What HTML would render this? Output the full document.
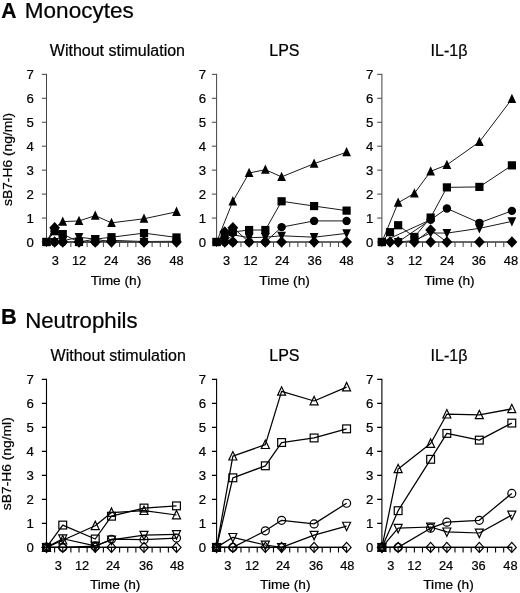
<!DOCTYPE html>
<html lang="en"><head><meta charset="utf-8"><title>sB7-H6 release</title>
<style>html,body{margin:0;padding:0;background:#fff}svg{display:block}</style></head>
<body>
<svg width="520" height="593" viewBox="0 0 520 593">
<rect width="520" height="593" fill="#fff"/>
<text font-family="Liberation Sans, Arial, Helvetica, sans-serif" stroke="#000" stroke-width="0.22" font-size="22" font-weight="bold" x="1.3" y="17.9" textLength="15.2" lengthAdjust="spacingAndGlyphs">A</text>
<text font-family="Liberation Sans, Arial, Helvetica, sans-serif" stroke="#000" stroke-width="0.22" font-size="21.5" x="24.8" y="17.9" textLength="109" lengthAdjust="spacingAndGlyphs">Monocytes</text>
<text font-family="Liberation Sans, Arial, Helvetica, sans-serif" stroke="#000" stroke-width="0.22" font-size="21.8" font-weight="bold" x="0.9" y="324">B</text>
<text font-family="Liberation Sans, Arial, Helvetica, sans-serif" stroke="#000" stroke-width="0.22" font-size="21.5" x="25.2" y="327.5" textLength="112.5" lengthAdjust="spacingAndGlyphs">Neutrophils</text>
<text font-family="Liberation Sans, Arial, Helvetica, sans-serif" stroke="#000" stroke-width="0.22" font-size="13" transform="translate(11.6 159.48) rotate(-90)" text-anchor="middle" textLength="93" lengthAdjust="spacingAndGlyphs">sB7-H6 (ng/ml)</text>
<g stroke="#1a1a1a" stroke-width="1.0" fill="none" stroke-linejoin="round">
<polyline points="46.5,242 54.62,227.63 62.75,242 79,242 95.25,242 111.5,242 144,242 176.5,242"/>
<polyline points="46.5,242 54.62,242 62.75,240.8 79,237.21 95.25,239.13 111.5,242 144,242 176.5,242"/>
<polyline points="46.5,242 54.62,242 62.75,242 79,242 95.25,242 111.5,240.32 144,241.52 176.5,241.28"/>
<polyline points="46.5,242 54.62,227.63 62.75,221.64 79,220.92 95.25,215.66 111.5,222.84 144,218.77 176.5,211.82"/>
<polyline points="46.5,242 54.62,231.22 62.75,234.1 79,242 95.25,239.13 111.5,237.21 144,233.14 176.5,237.45"/>
</g>
<g stroke="#444" stroke-width="1.0" fill="none">
<path d="M46.5 73.85V242H177"/>
<path d="M41.8 242H46.5M41.8 218.05H46.5M41.8 194.1H46.5M41.8 170.15H46.5M41.8 146.2H46.5M41.8 122.25H46.5M41.8 98.3H46.5M41.8 74.35H46.5M46.5 242V247M54.62 242V247M62.75 242V247M70.88 242V247M79 242V247M87.12 242V247M95.25 242V247M103.38 242V247M111.5 242V247M119.62 242V247M127.75 242V247M135.88 242V247M144 242V247M152.12 242V247M160.25 242V247M168.38 242V247M176.5 242V247"/>
</g>
<g font-family="Liberation Sans, Arial, Helvetica, sans-serif" stroke="#000" stroke-width="0.22" font-size="13.2" fill="#000">
<text x="33.9" y="246.6" text-anchor="end">0</text>
<text x="33.9" y="222.65" text-anchor="end">1</text>
<text x="33.9" y="198.7" text-anchor="end">2</text>
<text x="33.9" y="174.75" text-anchor="end">3</text>
<text x="33.9" y="150.8" text-anchor="end">4</text>
<text x="33.9" y="126.85" text-anchor="end">5</text>
<text x="33.9" y="102.9" text-anchor="end">6</text>
<text x="33.9" y="78.95" text-anchor="end">7</text>
</g>
<g font-family="Liberation Sans, Arial, Helvetica, sans-serif" stroke="#000" stroke-width="0.22" font-size="12.8" fill="#000">
<text x="55.23" y="265.2" text-anchor="middle">3</text>
<text x="79" y="265.2" text-anchor="middle">12</text>
<text x="111.2" y="265.2" text-anchor="middle">24</text>
<text x="144" y="265.2" text-anchor="middle">36</text>
<text x="176.5" y="265.2" text-anchor="middle">48</text>
</g>
<text font-family="Liberation Sans, Arial, Helvetica, sans-serif" stroke="#000" stroke-width="0.22" font-size="13.7" x="116" y="284.7" text-anchor="middle">Time (h)</text>
<text font-family="Liberation Sans, Arial, Helvetica, sans-serif" stroke="#000" stroke-width="0.22" font-size="16" x="117.4" y="55.7" text-anchor="middle">Without stimulation</text>
<path d="M49.23 227.63L54.62 221.93L60.02 227.63L54.62 233.33Z" fill="#000" stroke="none"/>
<path d="M57.35 242L62.75 236.3L68.15 242L62.75 247.7Z" fill="#000" stroke="none"/>
<path d="M73.6 242L79 236.3L84.4 242L79 247.7Z" fill="#000" stroke="none"/>
<path d="M89.85 242L95.25 236.3L100.65 242L95.25 247.7Z" fill="#000" stroke="none"/>
<path d="M106.1 242L111.5 236.3L116.9 242L111.5 247.7Z" fill="#000" stroke="none"/>
<path d="M138.6 242L144 236.3L149.4 242L144 247.7Z" fill="#000" stroke="none"/>
<path d="M171.1 242L176.5 236.3L181.9 242L176.5 247.7Z" fill="#000" stroke="none"/>
<path d="M50.27 237.9L58.98 237.9L54.62 247.2Z" fill="#000" stroke="none"/>
<path d="M58.4 236.7L67.1 236.7L62.75 246Z" fill="#000" stroke="none"/>
<path d="M74.65 233.11L83.35 233.11L79 242.41Z" fill="#000" stroke="none"/>
<path d="M90.9 235.03L99.6 235.03L95.25 244.33Z" fill="#000" stroke="none"/>
<path d="M107.15 237.9L115.85 237.9L111.5 247.2Z" fill="#000" stroke="none"/>
<path d="M139.65 237.9L148.35 237.9L144 247.2Z" fill="#000" stroke="none"/>
<path d="M172.15 237.9L180.85 237.9L176.5 247.2Z" fill="#000" stroke="none"/>
<circle cx="54.62" cy="242" r="4.2" fill="#000" stroke="none"/>
<circle cx="62.75" cy="242" r="4.2" fill="#000" stroke="none"/>
<circle cx="79" cy="242" r="4.2" fill="#000" stroke="none"/>
<circle cx="95.25" cy="242" r="4.2" fill="#000" stroke="none"/>
<circle cx="111.5" cy="240.32" r="4.2" fill="#000" stroke="none"/>
<circle cx="144" cy="241.52" r="4.2" fill="#000" stroke="none"/>
<circle cx="176.5" cy="241.28" r="4.2" fill="#000" stroke="none"/>
<path d="M50.27 231.73L58.98 231.73L54.62 222.43Z" fill="#000" stroke="none"/>
<path d="M58.4 225.74L67.1 225.74L62.75 216.44Z" fill="#000" stroke="none"/>
<path d="M74.65 225.02L83.35 225.02L79 215.72Z" fill="#000" stroke="none"/>
<path d="M90.9 219.75L99.6 219.75L95.25 210.46Z" fill="#000" stroke="none"/>
<path d="M107.15 226.94L115.85 226.94L111.5 217.64Z" fill="#000" stroke="none"/>
<path d="M139.65 222.87L148.35 222.87L144 213.57Z" fill="#000" stroke="none"/>
<path d="M172.15 215.92L180.85 215.92L176.5 206.62Z" fill="#000" stroke="none"/>
<rect x="42.4" y="237.9" width="8.2" height="8.2" fill="#000" stroke="none"/>
<rect x="50.52" y="227.12" width="8.2" height="8.2" fill="#000" stroke="none"/>
<rect x="58.65" y="230" width="8.2" height="8.2" fill="#000" stroke="none"/>
<rect x="74.9" y="237.9" width="8.2" height="8.2" fill="#000" stroke="none"/>
<rect x="91.15" y="235.03" width="8.2" height="8.2" fill="#000" stroke="none"/>
<rect x="107.4" y="233.11" width="8.2" height="8.2" fill="#000" stroke="none"/>
<rect x="139.9" y="229.04" width="8.2" height="8.2" fill="#000" stroke="none"/>
<rect x="172.4" y="233.35" width="8.2" height="8.2" fill="#000" stroke="none"/>
<path d="M49.23 242L54.62 236.3L60.02 242L54.62 247.7Z" fill="#000" stroke="none"/>
<rect x="42.4" y="237.9" width="8.2" height="8.2" fill="#000" stroke="none"/>
<g stroke="#1a1a1a" stroke-width="1.0" fill="none" stroke-linejoin="round">
<polyline points="216.6,242 224.72,231.94 232.85,227.63 249.1,242 265.35,242 281.6,242 314.1,242 346.6,242"/>
<polyline points="216.6,242 224.72,242 232.85,234.81 249.1,237.69 265.35,237.21 281.6,235.77 314.1,237.21 346.6,233.38"/>
<polyline points="216.6,242 224.72,242 232.85,242 249.1,242 265.35,242 281.6,227.15 314.1,220.92 346.6,220.92"/>
<polyline points="216.6,242 232.85,201.28 249.1,173.02 265.35,169.67 281.6,176.86 314.1,163.68 346.6,152.19"/>
<polyline points="216.6,242 224.72,234.34 232.85,231.94 249.1,230.03 265.35,230.03 281.6,201.28 314.1,206.07 346.6,210.63"/>
</g>
<g stroke="#444" stroke-width="1.0" fill="none">
<path d="M216.6 73.85V242H347.1"/>
<path d="M211.9 242H216.6M211.9 218.05H216.6M211.9 194.1H216.6M211.9 170.15H216.6M211.9 146.2H216.6M211.9 122.25H216.6M211.9 98.3H216.6M211.9 74.35H216.6M216.6 242V247M224.72 242V247M232.85 242V247M240.97 242V247M249.1 242V247M257.23 242V247M265.35 242V247M273.48 242V247M281.6 242V247M289.73 242V247M297.85 242V247M305.98 242V247M314.1 242V247M322.23 242V247M330.35 242V247M338.48 242V247M346.6 242V247"/>
</g>
<g font-family="Liberation Sans, Arial, Helvetica, sans-serif" stroke="#000" stroke-width="0.22" font-size="13.2" fill="#000">
<text x="206" y="246.6" text-anchor="end">0</text>
<text x="206" y="222.65" text-anchor="end">1</text>
<text x="206" y="198.7" text-anchor="end">2</text>
<text x="206" y="174.75" text-anchor="end">3</text>
<text x="206" y="150.8" text-anchor="end">4</text>
<text x="206" y="126.85" text-anchor="end">5</text>
<text x="206" y="102.9" text-anchor="end">6</text>
<text x="206" y="78.95" text-anchor="end">7</text>
</g>
<g font-family="Liberation Sans, Arial, Helvetica, sans-serif" stroke="#000" stroke-width="0.22" font-size="12.8" fill="#000">
<text x="226.53" y="265.2" text-anchor="middle">3</text>
<text x="250.6" y="265.2" text-anchor="middle">12</text>
<text x="282.2" y="265.2" text-anchor="middle">24</text>
<text x="314.7" y="265.2" text-anchor="middle">36</text>
<text x="346.6" y="265.2" text-anchor="middle">48</text>
</g>
<text font-family="Liberation Sans, Arial, Helvetica, sans-serif" stroke="#000" stroke-width="0.22" font-size="13.7" x="284.6" y="284.7" text-anchor="middle">Time (h)</text>
<text font-family="Liberation Sans, Arial, Helvetica, sans-serif" stroke="#000" stroke-width="0.22" font-size="16" x="284.4" y="55.7" text-anchor="middle">LPS</text>
<path d="M219.32 231.94L224.72 226.24L230.12 231.94L224.72 237.64Z" fill="#000" stroke="none"/>
<path d="M227.45 227.63L232.85 221.93L238.25 227.63L232.85 233.33Z" fill="#000" stroke="none"/>
<path d="M243.7 242L249.1 236.3L254.5 242L249.1 247.7Z" fill="#000" stroke="none"/>
<path d="M259.95 242L265.35 236.3L270.75 242L265.35 247.7Z" fill="#000" stroke="none"/>
<path d="M276.2 242L281.6 236.3L287 242L281.6 247.7Z" fill="#000" stroke="none"/>
<path d="M308.7 242L314.1 236.3L319.5 242L314.1 247.7Z" fill="#000" stroke="none"/>
<path d="M341.2 242L346.6 236.3L352 242L346.6 247.7Z" fill="#000" stroke="none"/>
<path d="M220.38 237.9L229.07 237.9L224.72 247.2Z" fill="#000" stroke="none"/>
<path d="M228.5 230.72L237.2 230.72L232.85 240.01Z" fill="#000" stroke="none"/>
<path d="M244.75 233.59L253.45 233.59L249.1 242.89Z" fill="#000" stroke="none"/>
<path d="M261 233.11L269.7 233.11L265.35 242.41Z" fill="#000" stroke="none"/>
<path d="M277.25 231.67L285.95 231.67L281.6 240.97Z" fill="#000" stroke="none"/>
<path d="M309.75 233.11L318.45 233.11L314.1 242.41Z" fill="#000" stroke="none"/>
<path d="M342.25 229.28L350.95 229.28L346.6 238.58Z" fill="#000" stroke="none"/>
<circle cx="224.72" cy="242" r="4.2" fill="#000" stroke="none"/>
<circle cx="232.85" cy="242" r="4.2" fill="#000" stroke="none"/>
<circle cx="249.1" cy="242" r="4.2" fill="#000" stroke="none"/>
<circle cx="265.35" cy="242" r="4.2" fill="#000" stroke="none"/>
<circle cx="281.6" cy="227.15" r="4.2" fill="#000" stroke="none"/>
<circle cx="314.1" cy="220.92" r="4.2" fill="#000" stroke="none"/>
<circle cx="346.6" cy="220.92" r="4.2" fill="#000" stroke="none"/>
<path d="M228.5 205.38L237.2 205.38L232.85 196.09Z" fill="#000" stroke="none"/>
<path d="M244.75 177.12L253.45 177.12L249.1 167.82Z" fill="#000" stroke="none"/>
<path d="M261 173.77L269.7 173.77L265.35 164.47Z" fill="#000" stroke="none"/>
<path d="M277.25 180.96L285.95 180.96L281.6 171.66Z" fill="#000" stroke="none"/>
<path d="M309.75 167.78L318.45 167.78L314.1 158.48Z" fill="#000" stroke="none"/>
<path d="M342.25 156.29L350.95 156.29L346.6 146.99Z" fill="#000" stroke="none"/>
<rect x="212.5" y="237.9" width="8.2" height="8.2" fill="#000" stroke="none"/>
<rect x="220.62" y="230.24" width="8.2" height="8.2" fill="#000" stroke="none"/>
<rect x="228.75" y="227.84" width="8.2" height="8.2" fill="#000" stroke="none"/>
<rect x="245" y="225.93" width="8.2" height="8.2" fill="#000" stroke="none"/>
<rect x="261.25" y="225.93" width="8.2" height="8.2" fill="#000" stroke="none"/>
<rect x="277.5" y="197.19" width="8.2" height="8.2" fill="#000" stroke="none"/>
<rect x="310" y="201.97" width="8.2" height="8.2" fill="#000" stroke="none"/>
<rect x="342.5" y="206.53" width="8.2" height="8.2" fill="#000" stroke="none"/>
<path d="M219.32 242L224.72 236.3L230.12 242L224.72 247.7Z" fill="#000" stroke="none"/>
<path d="M227.45 242L232.85 236.3L238.25 242L232.85 247.7Z" fill="#000" stroke="none"/>
<rect x="212.5" y="237.9" width="8.2" height="8.2" fill="#000" stroke="none"/>
<g stroke="#1a1a1a" stroke-width="1.0" fill="none" stroke-linejoin="round">
<polyline points="381.9,242 390.02,242 398.15,242 414.4,242 430.65,230.03 446.9,242 479.4,242 511.9,242"/>
<polyline points="381.9,242 398.15,242 414.4,240.56 430.65,232.9 446.9,233.14 479.4,228.35 511.9,221.4"/>
<polyline points="381.9,242 430.65,219.73 446.9,208.47 479.4,222.84 511.9,210.87"/>
<polyline points="381.9,242 398.15,202.72 414.4,193.38 430.65,171.35 446.9,164.88 479.4,141.89 511.9,99.02"/>
<polyline points="381.9,242 390.02,232.18 398.15,225.24 414.4,236.97 430.65,217.57 446.9,187.39 479.4,186.92 511.9,165.36"/>
<polyline points="398.15,242 430.65,219.73"/>
<polyline points="414.4,242 430.65,242 446.9,242"/>
</g>
<g stroke="#444" stroke-width="1.0" fill="none">
<path d="M381.9 73.85V242H512.4"/>
<path d="M377.2 242H381.9M377.2 218.05H381.9M377.2 194.1H381.9M377.2 170.15H381.9M377.2 146.2H381.9M377.2 122.25H381.9M377.2 98.3H381.9M377.2 74.35H381.9M381.9 242V247M390.02 242V247M398.15 242V247M406.27 242V247M414.4 242V247M422.52 242V247M430.65 242V247M438.77 242V247M446.9 242V247M455.02 242V247M463.15 242V247M471.27 242V247M479.4 242V247M487.52 242V247M495.65 242V247M503.77 242V247M511.9 242V247"/>
</g>
<g font-family="Liberation Sans, Arial, Helvetica, sans-serif" stroke="#000" stroke-width="0.22" font-size="13.2" fill="#000">
<text x="373.3" y="246.6" text-anchor="end">0</text>
<text x="373.3" y="222.65" text-anchor="end">1</text>
<text x="373.3" y="198.7" text-anchor="end">2</text>
<text x="373.3" y="174.75" text-anchor="end">3</text>
<text x="373.3" y="150.8" text-anchor="end">4</text>
<text x="373.3" y="126.85" text-anchor="end">5</text>
<text x="373.3" y="102.9" text-anchor="end">6</text>
<text x="373.3" y="78.95" text-anchor="end">7</text>
</g>
<g font-family="Liberation Sans, Arial, Helvetica, sans-serif" stroke="#000" stroke-width="0.22" font-size="12.8" fill="#000">
<text x="390.32" y="265.2" text-anchor="middle">3</text>
<text x="415" y="265.2" text-anchor="middle">12</text>
<text x="447.2" y="265.2" text-anchor="middle">24</text>
<text x="478.8" y="265.2" text-anchor="middle">36</text>
<text x="510.9" y="265.2" text-anchor="middle">48</text>
</g>
<text font-family="Liberation Sans, Arial, Helvetica, sans-serif" stroke="#000" stroke-width="0.22" font-size="13.7" x="449.4" y="284.7" text-anchor="middle">Time (h)</text>
<text font-family="Liberation Sans, Arial, Helvetica, sans-serif" stroke="#000" stroke-width="0.22" font-size="16" x="449" y="55.7" text-anchor="middle">IL-1β</text>
<path d="M384.62 242L390.02 236.3L395.42 242L390.02 247.7Z" fill="#000" stroke="none"/>
<path d="M392.75 242L398.15 236.3L403.55 242L398.15 247.7Z" fill="#000" stroke="none"/>
<path d="M409 242L414.4 236.3L419.8 242L414.4 247.7Z" fill="#000" stroke="none"/>
<path d="M425.25 230.03L430.65 224.32L436.05 230.03L430.65 235.73Z" fill="#000" stroke="none"/>
<path d="M441.5 242L446.9 236.3L452.3 242L446.9 247.7Z" fill="#000" stroke="none"/>
<path d="M474 242L479.4 236.3L484.8 242L479.4 247.7Z" fill="#000" stroke="none"/>
<path d="M506.5 242L511.9 236.3L517.3 242L511.9 247.7Z" fill="#000" stroke="none"/>
<path d="M393.8 237.9L402.5 237.9L398.15 247.2Z" fill="#000" stroke="none"/>
<path d="M410.05 236.46L418.75 236.46L414.4 245.76Z" fill="#000" stroke="none"/>
<path d="M426.3 228.8L435 228.8L430.65 238.1Z" fill="#000" stroke="none"/>
<path d="M442.55 229.04L451.25 229.04L446.9 238.34Z" fill="#000" stroke="none"/>
<path d="M475.05 224.25L483.75 224.25L479.4 233.55Z" fill="#000" stroke="none"/>
<path d="M507.55 217.3L516.25 217.3L511.9 226.6Z" fill="#000" stroke="none"/>
<circle cx="430.65" cy="219.73" r="4.2" fill="#000" stroke="none"/>
<circle cx="446.9" cy="208.47" r="4.2" fill="#000" stroke="none"/>
<circle cx="479.4" cy="222.84" r="4.2" fill="#000" stroke="none"/>
<circle cx="511.9" cy="210.87" r="4.2" fill="#000" stroke="none"/>
<path d="M393.8 206.82L402.5 206.82L398.15 197.52Z" fill="#000" stroke="none"/>
<path d="M410.05 197.48L418.75 197.48L414.4 188.18Z" fill="#000" stroke="none"/>
<path d="M426.3 175.45L435 175.45L430.65 166.15Z" fill="#000" stroke="none"/>
<path d="M442.55 168.98L451.25 168.98L446.9 159.68Z" fill="#000" stroke="none"/>
<path d="M475.05 145.99L483.75 145.99L479.4 136.69Z" fill="#000" stroke="none"/>
<path d="M507.55 103.12L516.25 103.12L511.9 93.82Z" fill="#000" stroke="none"/>
<rect x="377.8" y="237.9" width="8.2" height="8.2" fill="#000" stroke="none"/>
<rect x="385.92" y="228.08" width="8.2" height="8.2" fill="#000" stroke="none"/>
<rect x="394.05" y="221.14" width="8.2" height="8.2" fill="#000" stroke="none"/>
<rect x="410.3" y="232.87" width="8.2" height="8.2" fill="#000" stroke="none"/>
<rect x="426.55" y="213.47" width="8.2" height="8.2" fill="#000" stroke="none"/>
<rect x="442.8" y="183.29" width="8.2" height="8.2" fill="#000" stroke="none"/>
<rect x="475.3" y="182.82" width="8.2" height="8.2" fill="#000" stroke="none"/>
<rect x="507.8" y="161.26" width="8.2" height="8.2" fill="#000" stroke="none"/>
<path d="M425.25 242L430.65 236.3L436.05 242L430.65 247.7Z" fill="#000" stroke="none"/>
<rect x="377.8" y="237.9" width="8.2" height="8.2" fill="#000" stroke="none"/>
<text font-family="Liberation Sans, Arial, Helvetica, sans-serif" stroke="#000" stroke-width="0.22" font-size="13" transform="translate(11.3 463.7) rotate(-90)" text-anchor="middle" textLength="93" lengthAdjust="spacingAndGlyphs">sB7-H6 (ng/ml)</text>
<g stroke="#000" stroke-width="1.25" fill="none" stroke-linejoin="round">
<polyline points="46.5,547.4 62.75,547.4 95.25,547.4 111.5,547.4 144,547.4 176.5,547.4"/>
<polyline points="46.5,547.4 62.75,538.76 95.25,545.96 111.5,539.96 144,535.16 176.5,534.44"/>
<polyline points="46.5,547.4 62.75,547.4 95.25,546.2 111.5,539.24 144,539.72 176.5,538.04"/>
<polyline points="46.5,547.4 62.75,540.2 95.25,525.8 111.5,512.6 144,510.68 176.5,515"/>
<polyline points="46.5,547.4 62.75,525.08 95.25,539 111.5,516.2 144,508.04 176.5,505.88"/>
</g>
<g stroke="#000" stroke-width="1.1" fill="none">
<path d="M46.5 378.85V547.4H177.05"/>
<path d="M41.8 547.4H46.5M41.8 523.4H46.5M41.8 499.4H46.5M41.8 475.4H46.5M41.8 451.4H46.5M41.8 427.4H46.5M41.8 403.4H46.5M41.8 379.4H46.5M46.5 547.4V552.4M54.62 547.4V552.4M62.75 547.4V552.4M70.88 547.4V552.4M79 547.4V552.4M87.12 547.4V552.4M95.25 547.4V552.4M103.38 547.4V552.4M111.5 547.4V552.4M119.62 547.4V552.4M127.75 547.4V552.4M135.88 547.4V552.4M144 547.4V552.4M152.12 547.4V552.4M160.25 547.4V552.4M168.38 547.4V552.4M176.5 547.4V552.4"/>
</g>
<g font-family="Liberation Sans, Arial, Helvetica, sans-serif" stroke="#000" stroke-width="0.22" font-size="13.2" fill="#000">
<text x="33.9" y="552" text-anchor="end">0</text>
<text x="33.9" y="528" text-anchor="end">1</text>
<text x="33.9" y="504" text-anchor="end">2</text>
<text x="33.9" y="480" text-anchor="end">3</text>
<text x="33.9" y="456" text-anchor="end">4</text>
<text x="33.9" y="432" text-anchor="end">5</text>
<text x="33.9" y="408" text-anchor="end">6</text>
<text x="33.9" y="384" text-anchor="end">7</text>
</g>
<g font-family="Liberation Sans, Arial, Helvetica, sans-serif" stroke="#000" stroke-width="0.22" font-size="12.8" fill="#000">
<text x="58.33" y="569.6" text-anchor="middle">3</text>
<text x="82" y="569.6" text-anchor="middle">12</text>
<text x="113" y="569.6" text-anchor="middle">24</text>
<text x="146.1" y="569.6" text-anchor="middle">36</text>
<text x="177.1" y="569.6" text-anchor="middle">48</text>
</g>
<text font-family="Liberation Sans, Arial, Helvetica, sans-serif" stroke="#000" stroke-width="0.22" font-size="13.7" x="115.2" y="588.6" text-anchor="middle">Time (h)</text>
<text font-family="Liberation Sans, Arial, Helvetica, sans-serif" stroke="#000" stroke-width="0.22" font-size="16" x="118.2" y="361.1" text-anchor="middle">Without stimulation</text>
<path d="M42 547.4L46.5 542.4L51 547.4L46.5 552.4Z" fill="none" stroke="#000" stroke-width="1.2" stroke-linejoin="miter"/>
<path d="M58.25 547.4L62.75 542.4L67.25 547.4L62.75 552.4Z" fill="none" stroke="#000" stroke-width="1.2" stroke-linejoin="miter"/>
<path d="M90.75 547.4L95.25 542.4L99.75 547.4L95.25 552.4Z" fill="none" stroke="#000" stroke-width="1.2" stroke-linejoin="miter"/>
<path d="M107 547.4L111.5 542.4L116 547.4L111.5 552.4Z" fill="none" stroke="#000" stroke-width="1.2" stroke-linejoin="miter"/>
<path d="M139.5 547.4L144 542.4L148.5 547.4L144 552.4Z" fill="none" stroke="#000" stroke-width="1.2" stroke-linejoin="miter"/>
<path d="M172 547.4L176.5 542.4L181 547.4L176.5 552.4Z" fill="none" stroke="#000" stroke-width="1.2" stroke-linejoin="miter"/>
<path d="M42.5 543.6L50.5 543.6L46.5 552Z" fill="none" stroke="#000" stroke-width="1.2" stroke-linejoin="miter"/>
<path d="M58.75 534.96L66.75 534.96L62.75 543.36Z" fill="none" stroke="#000" stroke-width="1.2" stroke-linejoin="miter"/>
<path d="M91.25 542.16L99.25 542.16L95.25 550.56Z" fill="none" stroke="#000" stroke-width="1.2" stroke-linejoin="miter"/>
<path d="M107.5 536.16L115.5 536.16L111.5 544.56Z" fill="none" stroke="#000" stroke-width="1.2" stroke-linejoin="miter"/>
<path d="M140 531.36L148 531.36L144 539.76Z" fill="none" stroke="#000" stroke-width="1.2" stroke-linejoin="miter"/>
<path d="M172.5 530.64L180.5 530.64L176.5 539.04Z" fill="none" stroke="#000" stroke-width="1.2" stroke-linejoin="miter"/>
<circle cx="46.5" cy="547.4" r="4" fill="none" stroke="#000" stroke-width="1.2" stroke-linejoin="miter"/>
<circle cx="62.75" cy="547.4" r="4" fill="none" stroke="#000" stroke-width="1.2" stroke-linejoin="miter"/>
<circle cx="95.25" cy="546.2" r="4" fill="none" stroke="#000" stroke-width="1.2" stroke-linejoin="miter"/>
<circle cx="111.5" cy="539.24" r="4" fill="none" stroke="#000" stroke-width="1.2" stroke-linejoin="miter"/>
<circle cx="144" cy="539.72" r="4" fill="none" stroke="#000" stroke-width="1.2" stroke-linejoin="miter"/>
<circle cx="176.5" cy="538.04" r="4" fill="none" stroke="#000" stroke-width="1.2" stroke-linejoin="miter"/>
<path d="M42.5 551.2L50.5 551.2L46.5 542.8Z" fill="none" stroke="#000" stroke-width="1.2" stroke-linejoin="miter"/>
<path d="M58.75 544L66.75 544L62.75 535.6Z" fill="none" stroke="#000" stroke-width="1.2" stroke-linejoin="miter"/>
<path d="M91.25 529.6L99.25 529.6L95.25 521.2Z" fill="none" stroke="#000" stroke-width="1.2" stroke-linejoin="miter"/>
<path d="M107.5 516.4L115.5 516.4L111.5 508Z" fill="none" stroke="#000" stroke-width="1.2" stroke-linejoin="miter"/>
<path d="M140 514.48L148 514.48L144 506.08Z" fill="none" stroke="#000" stroke-width="1.2" stroke-linejoin="miter"/>
<path d="M172.5 518.8L180.5 518.8L176.5 510.4Z" fill="none" stroke="#000" stroke-width="1.2" stroke-linejoin="miter"/>
<rect x="42.6" y="543.5" width="7.8" height="7.8" fill="none" stroke="#000" stroke-width="1.2" stroke-linejoin="miter"/>
<rect x="58.85" y="521.18" width="7.8" height="7.8" fill="none" stroke="#000" stroke-width="1.2" stroke-linejoin="miter"/>
<rect x="91.35" y="535.1" width="7.8" height="7.8" fill="none" stroke="#000" stroke-width="1.2" stroke-linejoin="miter"/>
<rect x="107.6" y="512.3" width="7.8" height="7.8" fill="none" stroke="#000" stroke-width="1.2" stroke-linejoin="miter"/>
<rect x="140.1" y="504.14" width="7.8" height="7.8" fill="none" stroke="#000" stroke-width="1.2" stroke-linejoin="miter"/>
<rect x="172.6" y="501.98" width="7.8" height="7.8" fill="none" stroke="#000" stroke-width="1.2" stroke-linejoin="miter"/>
<g stroke="#000" stroke-width="1.25" fill="none" stroke-linejoin="round">
<polyline points="216.6,547.4 232.85,547.4 265.35,547.4 281.6,547.4 314.1,547.4 346.6,547.4"/>
<polyline points="216.6,547.4 232.85,537.32 265.35,545 281.6,547.4 314.1,535.16 346.6,526.04"/>
<polyline points="216.6,547.4 232.85,547.4 265.35,530.84 281.6,520.28 314.1,523.88 346.6,503.24"/>
<polyline points="216.6,547.4 232.85,456.2 265.35,444.68 281.6,391.4 314.1,401 346.6,387.08"/>
<polyline points="216.6,547.4 232.85,477.8 265.35,465.8 281.6,442.52 314.1,437.96 346.6,428.84"/>
</g>
<g stroke="#000" stroke-width="1.1" fill="none">
<path d="M216.6 378.85V547.4H347.15"/>
<path d="M211.9 547.4H216.6M211.9 523.4H216.6M211.9 499.4H216.6M211.9 475.4H216.6M211.9 451.4H216.6M211.9 427.4H216.6M211.9 403.4H216.6M211.9 379.4H216.6M216.6 547.4V552.4M224.72 547.4V552.4M232.85 547.4V552.4M240.97 547.4V552.4M249.1 547.4V552.4M257.23 547.4V552.4M265.35 547.4V552.4M273.48 547.4V552.4M281.6 547.4V552.4M289.73 547.4V552.4M297.85 547.4V552.4M305.98 547.4V552.4M314.1 547.4V552.4M322.23 547.4V552.4M330.35 547.4V552.4M338.48 547.4V552.4M346.6 547.4V552.4"/>
</g>
<g font-family="Liberation Sans, Arial, Helvetica, sans-serif" stroke="#000" stroke-width="0.22" font-size="13.2" fill="#000">
<text x="206" y="552" text-anchor="end">0</text>
<text x="206" y="528" text-anchor="end">1</text>
<text x="206" y="504" text-anchor="end">2</text>
<text x="206" y="480" text-anchor="end">3</text>
<text x="206" y="456" text-anchor="end">4</text>
<text x="206" y="432" text-anchor="end">5</text>
<text x="206" y="408" text-anchor="end">6</text>
<text x="206" y="384" text-anchor="end">7</text>
</g>
<g font-family="Liberation Sans, Arial, Helvetica, sans-serif" stroke="#000" stroke-width="0.22" font-size="12.8" fill="#000">
<text x="227.92" y="569.6" text-anchor="middle">3</text>
<text x="252.1" y="569.6" text-anchor="middle">12</text>
<text x="283" y="569.6" text-anchor="middle">24</text>
<text x="316.1" y="569.6" text-anchor="middle">36</text>
<text x="347.3" y="569.6" text-anchor="middle">48</text>
</g>
<text font-family="Liberation Sans, Arial, Helvetica, sans-serif" stroke="#000" stroke-width="0.22" font-size="13.7" x="285.3" y="588.6" text-anchor="middle">Time (h)</text>
<text font-family="Liberation Sans, Arial, Helvetica, sans-serif" stroke="#000" stroke-width="0.22" font-size="16" x="284.4" y="361.1" text-anchor="middle">LPS</text>
<path d="M212.1 547.4L216.6 542.4L221.1 547.4L216.6 552.4Z" fill="none" stroke="#000" stroke-width="1.2" stroke-linejoin="miter"/>
<path d="M228.35 547.4L232.85 542.4L237.35 547.4L232.85 552.4Z" fill="none" stroke="#000" stroke-width="1.2" stroke-linejoin="miter"/>
<path d="M260.85 547.4L265.35 542.4L269.85 547.4L265.35 552.4Z" fill="none" stroke="#000" stroke-width="1.2" stroke-linejoin="miter"/>
<path d="M277.1 547.4L281.6 542.4L286.1 547.4L281.6 552.4Z" fill="none" stroke="#000" stroke-width="1.2" stroke-linejoin="miter"/>
<path d="M309.6 547.4L314.1 542.4L318.6 547.4L314.1 552.4Z" fill="none" stroke="#000" stroke-width="1.2" stroke-linejoin="miter"/>
<path d="M342.1 547.4L346.6 542.4L351.1 547.4L346.6 552.4Z" fill="none" stroke="#000" stroke-width="1.2" stroke-linejoin="miter"/>
<path d="M212.6 543.6L220.6 543.6L216.6 552Z" fill="none" stroke="#000" stroke-width="1.2" stroke-linejoin="miter"/>
<path d="M228.85 533.52L236.85 533.52L232.85 541.92Z" fill="none" stroke="#000" stroke-width="1.2" stroke-linejoin="miter"/>
<path d="M261.35 541.2L269.35 541.2L265.35 549.6Z" fill="none" stroke="#000" stroke-width="1.2" stroke-linejoin="miter"/>
<path d="M277.6 543.6L285.6 543.6L281.6 552Z" fill="none" stroke="#000" stroke-width="1.2" stroke-linejoin="miter"/>
<path d="M310.1 531.36L318.1 531.36L314.1 539.76Z" fill="none" stroke="#000" stroke-width="1.2" stroke-linejoin="miter"/>
<path d="M342.6 522.24L350.6 522.24L346.6 530.64Z" fill="none" stroke="#000" stroke-width="1.2" stroke-linejoin="miter"/>
<circle cx="216.6" cy="547.4" r="4" fill="none" stroke="#000" stroke-width="1.2" stroke-linejoin="miter"/>
<circle cx="232.85" cy="547.4" r="4" fill="none" stroke="#000" stroke-width="1.2" stroke-linejoin="miter"/>
<circle cx="265.35" cy="530.84" r="4" fill="none" stroke="#000" stroke-width="1.2" stroke-linejoin="miter"/>
<circle cx="281.6" cy="520.28" r="4" fill="none" stroke="#000" stroke-width="1.2" stroke-linejoin="miter"/>
<circle cx="314.1" cy="523.88" r="4" fill="none" stroke="#000" stroke-width="1.2" stroke-linejoin="miter"/>
<circle cx="346.6" cy="503.24" r="4" fill="none" stroke="#000" stroke-width="1.2" stroke-linejoin="miter"/>
<path d="M212.6 551.2L220.6 551.2L216.6 542.8Z" fill="none" stroke="#000" stroke-width="1.2" stroke-linejoin="miter"/>
<path d="M228.85 460L236.85 460L232.85 451.6Z" fill="none" stroke="#000" stroke-width="1.2" stroke-linejoin="miter"/>
<path d="M261.35 448.48L269.35 448.48L265.35 440.08Z" fill="none" stroke="#000" stroke-width="1.2" stroke-linejoin="miter"/>
<path d="M277.6 395.2L285.6 395.2L281.6 386.8Z" fill="none" stroke="#000" stroke-width="1.2" stroke-linejoin="miter"/>
<path d="M310.1 404.8L318.1 404.8L314.1 396.4Z" fill="none" stroke="#000" stroke-width="1.2" stroke-linejoin="miter"/>
<path d="M342.6 390.88L350.6 390.88L346.6 382.48Z" fill="none" stroke="#000" stroke-width="1.2" stroke-linejoin="miter"/>
<rect x="212.7" y="543.5" width="7.8" height="7.8" fill="none" stroke="#000" stroke-width="1.2" stroke-linejoin="miter"/>
<rect x="228.95" y="473.9" width="7.8" height="7.8" fill="none" stroke="#000" stroke-width="1.2" stroke-linejoin="miter"/>
<rect x="261.45" y="461.9" width="7.8" height="7.8" fill="none" stroke="#000" stroke-width="1.2" stroke-linejoin="miter"/>
<rect x="277.7" y="438.62" width="7.8" height="7.8" fill="none" stroke="#000" stroke-width="1.2" stroke-linejoin="miter"/>
<rect x="310.2" y="434.06" width="7.8" height="7.8" fill="none" stroke="#000" stroke-width="1.2" stroke-linejoin="miter"/>
<rect x="342.7" y="424.94" width="7.8" height="7.8" fill="none" stroke="#000" stroke-width="1.2" stroke-linejoin="miter"/>
<g stroke="#000" stroke-width="1.25" fill="none" stroke-linejoin="round">
<polyline points="381.9,547.4 398.14,547.4 430.61,547.4 446.85,547.4 479.32,547.4 511.8,547.4"/>
<polyline points="381.9,547.4 398.14,528.2 430.61,527 446.85,531.8 479.32,533 511.8,515"/>
<polyline points="381.9,547.4 398.14,547.4 430.61,528.2 446.85,522.2 479.32,520.28 511.8,493.4"/>
<polyline points="381.9,547.4 398.14,468.92 430.61,443.48 446.85,414.2 479.32,414.92 511.8,408.92"/>
<polyline points="381.9,547.4 398.14,510.68 430.61,459.32 446.85,433.4 479.32,440.12 511.8,423.08"/>
</g>
<g stroke="#000" stroke-width="1.1" fill="none">
<path d="M381.9 378.85V547.4H512.35"/>
<path d="M377.2 547.4H381.9M377.2 523.4H381.9M377.2 499.4H381.9M377.2 475.4H381.9M377.2 451.4H381.9M377.2 427.4H381.9M377.2 403.4H381.9M377.2 379.4H381.9M381.9 547.4V552.4M390.02 547.4V552.4M398.14 547.4V552.4M406.26 547.4V552.4M414.38 547.4V552.4M422.49 547.4V552.4M430.61 547.4V552.4M438.73 547.4V552.4M446.85 547.4V552.4M454.97 547.4V552.4M463.09 547.4V552.4M471.21 547.4V552.4M479.32 547.4V552.4M487.44 547.4V552.4M495.56 547.4V552.4M503.68 547.4V552.4M511.8 547.4V552.4"/>
</g>
<g font-family="Liberation Sans, Arial, Helvetica, sans-serif" stroke="#000" stroke-width="0.22" font-size="13.2" fill="#000">
<text x="373.3" y="552" text-anchor="end">0</text>
<text x="373.3" y="528" text-anchor="end">1</text>
<text x="373.3" y="504" text-anchor="end">2</text>
<text x="373.3" y="480" text-anchor="end">3</text>
<text x="373.3" y="456" text-anchor="end">4</text>
<text x="373.3" y="432" text-anchor="end">5</text>
<text x="373.3" y="408" text-anchor="end">6</text>
<text x="373.3" y="384" text-anchor="end">7</text>
</g>
<g font-family="Liberation Sans, Arial, Helvetica, sans-serif" stroke="#000" stroke-width="0.22" font-size="12.8" fill="#000">
<text x="390.92" y="569.6" text-anchor="middle">3</text>
<text x="414.4" y="569.6" text-anchor="middle">12</text>
<text x="446" y="569.6" text-anchor="middle">24</text>
<text x="478.5" y="569.6" text-anchor="middle">36</text>
<text x="510.4" y="569.6" text-anchor="middle">48</text>
</g>
<text font-family="Liberation Sans, Arial, Helvetica, sans-serif" stroke="#000" stroke-width="0.22" font-size="13.7" x="448.5" y="588.6" text-anchor="middle">Time (h)</text>
<text font-family="Liberation Sans, Arial, Helvetica, sans-serif" stroke="#000" stroke-width="0.22" font-size="16" x="449" y="361.1" text-anchor="middle">IL-1β</text>
<path d="M377.4 547.4L381.9 542.4L386.4 547.4L381.9 552.4Z" fill="none" stroke="#000" stroke-width="1.2" stroke-linejoin="miter"/>
<path d="M393.64 547.4L398.14 542.4L402.64 547.4L398.14 552.4Z" fill="none" stroke="#000" stroke-width="1.2" stroke-linejoin="miter"/>
<path d="M426.11 547.4L430.61 542.4L435.11 547.4L430.61 552.4Z" fill="none" stroke="#000" stroke-width="1.2" stroke-linejoin="miter"/>
<path d="M442.35 547.4L446.85 542.4L451.35 547.4L446.85 552.4Z" fill="none" stroke="#000" stroke-width="1.2" stroke-linejoin="miter"/>
<path d="M474.82 547.4L479.32 542.4L483.82 547.4L479.32 552.4Z" fill="none" stroke="#000" stroke-width="1.2" stroke-linejoin="miter"/>
<path d="M507.3 547.4L511.8 542.4L516.3 547.4L511.8 552.4Z" fill="none" stroke="#000" stroke-width="1.2" stroke-linejoin="miter"/>
<path d="M377.9 543.6L385.9 543.6L381.9 552Z" fill="none" stroke="#000" stroke-width="1.2" stroke-linejoin="miter"/>
<path d="M394.14 524.4L402.14 524.4L398.14 532.8Z" fill="none" stroke="#000" stroke-width="1.2" stroke-linejoin="miter"/>
<path d="M426.61 523.2L434.61 523.2L430.61 531.6Z" fill="none" stroke="#000" stroke-width="1.2" stroke-linejoin="miter"/>
<path d="M442.85 528L450.85 528L446.85 536.4Z" fill="none" stroke="#000" stroke-width="1.2" stroke-linejoin="miter"/>
<path d="M475.32 529.2L483.32 529.2L479.32 537.6Z" fill="none" stroke="#000" stroke-width="1.2" stroke-linejoin="miter"/>
<path d="M507.8 511.2L515.8 511.2L511.8 519.6Z" fill="none" stroke="#000" stroke-width="1.2" stroke-linejoin="miter"/>
<circle cx="381.9" cy="547.4" r="4" fill="none" stroke="#000" stroke-width="1.2" stroke-linejoin="miter"/>
<circle cx="398.14" cy="547.4" r="4" fill="none" stroke="#000" stroke-width="1.2" stroke-linejoin="miter"/>
<circle cx="430.61" cy="528.2" r="4" fill="none" stroke="#000" stroke-width="1.2" stroke-linejoin="miter"/>
<circle cx="446.85" cy="522.2" r="4" fill="none" stroke="#000" stroke-width="1.2" stroke-linejoin="miter"/>
<circle cx="479.32" cy="520.28" r="4" fill="none" stroke="#000" stroke-width="1.2" stroke-linejoin="miter"/>
<circle cx="511.8" cy="493.4" r="4" fill="none" stroke="#000" stroke-width="1.2" stroke-linejoin="miter"/>
<path d="M377.9 551.2L385.9 551.2L381.9 542.8Z" fill="none" stroke="#000" stroke-width="1.2" stroke-linejoin="miter"/>
<path d="M394.14 472.72L402.14 472.72L398.14 464.32Z" fill="none" stroke="#000" stroke-width="1.2" stroke-linejoin="miter"/>
<path d="M426.61 447.28L434.61 447.28L430.61 438.88Z" fill="none" stroke="#000" stroke-width="1.2" stroke-linejoin="miter"/>
<path d="M442.85 418L450.85 418L446.85 409.6Z" fill="none" stroke="#000" stroke-width="1.2" stroke-linejoin="miter"/>
<path d="M475.32 418.72L483.32 418.72L479.32 410.32Z" fill="none" stroke="#000" stroke-width="1.2" stroke-linejoin="miter"/>
<path d="M507.8 412.72L515.8 412.72L511.8 404.32Z" fill="none" stroke="#000" stroke-width="1.2" stroke-linejoin="miter"/>
<rect x="378" y="543.5" width="7.8" height="7.8" fill="none" stroke="#000" stroke-width="1.2" stroke-linejoin="miter"/>
<rect x="394.24" y="506.78" width="7.8" height="7.8" fill="none" stroke="#000" stroke-width="1.2" stroke-linejoin="miter"/>
<rect x="426.71" y="455.42" width="7.8" height="7.8" fill="none" stroke="#000" stroke-width="1.2" stroke-linejoin="miter"/>
<rect x="442.95" y="429.5" width="7.8" height="7.8" fill="none" stroke="#000" stroke-width="1.2" stroke-linejoin="miter"/>
<rect x="475.43" y="436.22" width="7.8" height="7.8" fill="none" stroke="#000" stroke-width="1.2" stroke-linejoin="miter"/>
<rect x="507.9" y="419.18" width="7.8" height="7.8" fill="none" stroke="#000" stroke-width="1.2" stroke-linejoin="miter"/>
</svg>
</body></html>
